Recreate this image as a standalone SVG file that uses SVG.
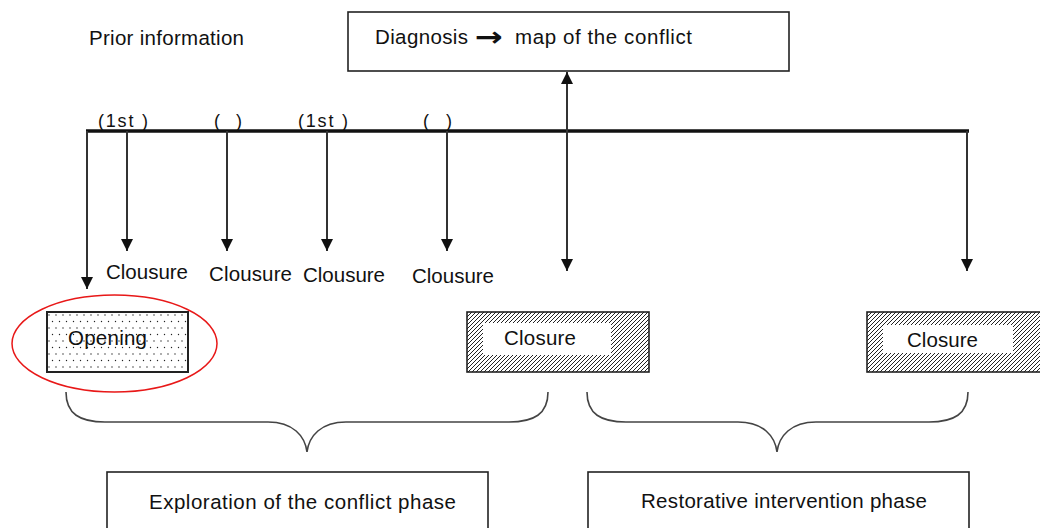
<svg xmlns="http://www.w3.org/2000/svg" width="1040" height="528" viewBox="0 0 1040 528">
<style>
text{font-family:"Liberation Sans",Arial,sans-serif;font-size:20.5px;fill:#111;}
.sm{font-size:18px;}
.box{fill:#fff;stroke:#222;stroke-width:1.6;}
.ln{stroke:#333;stroke-width:2;fill:none;}
.brace{stroke:#444;stroke-width:1.6;fill:none;}
</style>
<defs>
<marker id="ah" viewBox="0 0 12 12" refX="12" refY="6" markerWidth="12" markerHeight="12" markerUnits="userSpaceOnUse" orient="auto-start-reverse">
<path d="M0,0 L12,6 L0,12 Z" fill="#111"/>
</marker>
<pattern id="dots" patternUnits="userSpaceOnUse" width="7" height="13" x="47" y="312">
<rect width="7" height="13" fill="#fff"/>
<circle cx="2" cy="3" r="0.7" fill="#222"/>
<circle cx="5.5" cy="9.5" r="0.7" fill="#222"/>
</pattern>
<pattern id="hatch" patternUnits="userSpaceOnUse" width="4" height="4">
<rect width="4" height="4" fill="#fff"/>
<path d="M-1,5 L5,-1 M-1,1 L1,-1 M3,5 L5,3" stroke="#222" stroke-width="1"/>
</pattern>
</defs>

<text id="prior" x="89" y="45" textLength="155">Prior information</text>

<g id="diagnosis">
<rect class="box" x="348" y="12" width="441" height="59"/>
<text x="375" y="44" textLength="93">Diagnosis</text>
<text x="475" y="46" textLength="28" lengthAdjust="spacingAndGlyphs" style="font-family:'DejaVu Sans',sans-serif;font-weight:bold;font-size:27px">→</text>
<text x="515" y="44" textLength="177">map of the conflict</text>
</g>

<g id="timeline">
<line x1="86" y1="131" x2="969" y2="131" stroke="#111" stroke-width="3.5"/>
<text class="sm" x="98" y="127" textLength="50">(1st )</text>
<text class="sm" x="214" y="127" textLength="28">( )</text>
<text class="sm" x="298" y="127" textLength="50">(1st )</text>
<text class="sm" x="423" y="127" textLength="29">( )</text>
</g>

<g id="connectors">
<line class="ln" x1="87" y1="131" x2="87" y2="289" marker-end="url(#ah)"/>
<line class="ln" x1="127" y1="131" x2="127" y2="251" marker-end="url(#ah)"/>
<line class="ln" x1="227" y1="131" x2="227" y2="251" marker-end="url(#ah)"/>
<line class="ln" x1="327" y1="131" x2="327" y2="251" marker-end="url(#ah)"/>
<line class="ln" x1="447" y1="131" x2="447" y2="251" marker-end="url(#ah)"/>
<line class="ln" x1="567" y1="72" x2="567" y2="271" marker-start="url(#ah)" marker-end="url(#ah)"/>
<line class="ln" x1="967" y1="131" x2="967" y2="271" marker-end="url(#ah)"/>
</g>

<g id="clousure-labels">
<text x="106" y="279" textLength="82">Clousure</text>
<text x="209" y="281" textLength="83">Clousure</text>
<text x="303" y="282" textLength="82">Clousure</text>
<text x="412" y="283" textLength="82">Clousure</text>
</g>

<g id="opening">
<rect x="47" y="312" width="141" height="60" fill="url(#dots)" stroke="#222" stroke-width="2"/>
<text x="68" y="345" textLength="79">Opening</text>
<ellipse cx="114.5" cy="343.5" rx="102.5" ry="48.5" fill="none" stroke="#e81818" stroke-width="1.5"/>
</g>

<g id="closure1">
<rect x="467" y="312" width="182" height="60" fill="url(#hatch)" stroke="#222" stroke-width="1.6"/>
<rect x="483" y="323" width="128" height="32" fill="#fff"/>
<text x="504" y="345" textLength="72">Closure</text>
</g>

<g id="closure2">
<rect x="867" y="312" width="182" height="60" fill="url(#hatch)" stroke="#222" stroke-width="1.6"/>
<rect x="883" y="325" width="130" height="28" fill="#fff"/>
<text x="907" y="347" textLength="71">Closure</text>
</g>

<g id="braces">
<path class="brace" d="M66,392 C66,414 80,422 105,422 L268,422 C293,422 305,436 307,452 C309,436 321,422 346,422 L509,422 C534,422 548,414 548,392"/>
<path class="brace" d="M587,392 C587,414 601,422 626,422 L738,422 C763,422 775,436 777,452 C779,436 791,422 816,422 L929,422 C954,422 968,414 968,392"/>
</g>

<g id="exploration">
<rect class="box" x="107" y="472" width="381" height="70"/>
<text x="149" y="509" textLength="307">Exploration of the conflict phase</text>
</g>

<g id="restorative">
<rect class="box" x="588" y="472" width="381" height="70"/>
<text x="641" y="508" textLength="286">Restorative intervention phase</text>
</g>
</svg>
